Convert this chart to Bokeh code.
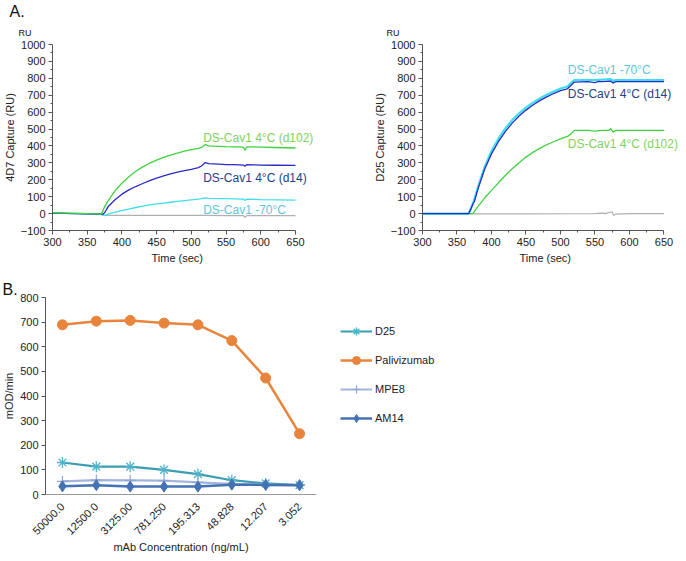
import math
from bokeh.plotting import figure
from bokeh.models import Label, Legend, LegendItem, FactorRange, FixedTicker, Range1d, Title
from bokeh.layouts import column, row
from bokeh.embed import file_html
from bokeh.resources import INLINE

FONT = "Liberation Sans"

# ---------------- Panel A data (SPR sensorgrams) ----------------
# 4D7 capture
t_4d7_d102 = [300, 320, 340, 360, 365, 370, 372, 375, 380, 390, 400, 410, 420, 430, 440, 450, 460, 470, 480,
              490, 500, 510, 515, 520, 525, 540, 550, 560, 570, 575, 577, 580, 590, 600, 620, 650]
ru_4d7_d102 = [5, 3, 1, -2, -3, -3, 10, 40, 75, 135, 180, 218, 250, 276, 298, 316, 332, 346, 358,
               369, 378, 386, 392, 408, 400, 398, 396, 395, 395, 392, 375, 394, 394, 393, 391, 388]
t_4d7_d14 = [300, 365, 370, 372, 375, 380, 390, 400, 410, 420, 430, 440, 450, 460, 470, 480, 490, 500, 510,
             515, 520, 525, 540, 550, 560, 570, 575, 577, 580, 590, 600, 620, 650]
ru_4d7_d14 = [3, -3, -3, -5, 5, 40, 82, 115, 140, 160, 178, 195, 210, 223, 235, 245, 254, 262, 272,
              283, 302, 295, 293, 290, 290, 288, 287, 280, 290, 288, 287, 286, 285]
t_4d7_m70 = [300, 365, 370, 375, 378, 380, 390, 400, 410, 420, 430, 440, 450, 460, 470, 480, 490, 500, 510,
             515, 520, 525, 550, 575, 577, 580, 600, 650]
ru_4d7_m70 = [3, -3, -5, -12, -8, -3, 8, 18, 27, 36, 44, 51, 57, 62, 67, 72, 77, 81, 85,
              88, 93, 90, 88, 86, 78, 85, 83, 80]
t_4d7_blank = [300, 360, 370, 375, 380, 450, 520, 550, 575, 577, 580, 650]
ru_4d7_blank = [2, 0, -2, -10, -10, -10, -10, -12, -12, -22, -12, -12]

# D25 capture
t_d25_blank = [300, 360, 380, 450, 520, 550, 560, 565, 572, 575, 577, 580, 600, 650]
ru_d25_blank = [0, 0, -2, -2, -1, 0, 3, 0, 8, 10, -12, -3, 0, 0]
t_d25_d102 = [300, 365, 373, 380, 390, 400, 410, 420, 430, 440, 450, 460, 470, 480, 490, 500, 510, 515, 520,
              540, 550, 560, 570, 573, 576, 580, 600, 650]
ru_d25_d102 = [0, 0, 0, 40, 92, 137, 182, 225, 265, 301, 334, 362, 386, 407, 425, 442, 456, 470, 492,
               492, 488, 492, 492, 503, 482, 492, 492, 492]
t_d25_d14 = [300, 367, 370, 373, 375, 380, 390, 400, 410, 420, 430, 440, 450, 460, 470, 480, 490, 500, 510,
             515, 520, 540, 550, 555, 560, 573, 576, 580, 650]
ru_d25_d14 = [0, 0, 25, 55, 70, 140, 262, 353, 425, 485, 535, 577, 612, 642, 668, 690, 710, 727, 738,
              758, 778, 780, 775, 782, 780, 783, 772, 780, 780]
t_d25_m70 = [300, 367, 370, 373, 375, 380, 390, 400, 410, 420, 430, 440, 450, 460, 470, 480, 490, 500, 510,
             515, 520, 550, 573, 576, 580, 650]
ru_d25_m70 = [0, 0, 30, 62, 80, 152, 275, 370, 443, 503, 553, 593, 627, 656, 681, 703, 722, 740, 752,
              772, 790, 790, 795, 785, 790, 790]

x_ticks_a = [300, 350, 400, 450, 500, 550, 600, 650]
y_ticks_a = [-100, 0, 100, 200, 300, 400, 500, 600, 700, 800, 900, 1000]

# ---------------- Panel B data ----------------
concentrations = ["50000.0", "12500.0", "3125.00", "781.250", "195.313", "48.828", "12.207", "3.052"]
d25 = [130, 113, 113, 100, 83, 58, 45, 38]
palivizumab = [689, 704, 707, 696, 689, 625, 473, 247]
mpe8 = [53, 58, 57, 56, 49, 43, 40, 38]
am14 = [33, 38, 32, 32, 32, 40, 39, 38]
y_ticks_b = [0, 100, 200, 300, 400, 500, 600, 700, 800]

GREEN_L, GREEN_T = "#3fd23f", "#7ed35e"
BLUE_L, BLUE_T = "#2a2ac8", "#24408a"
CYAN_L, CYAN_T = "#3de0ea", "#5ec6dc"
GRAY_L = "#b0b0b0"


def style_axes(p, ylabel, xlabel):
    p.outline_line_color = None
    p.xgrid.visible = False
    p.ygrid.visible = False
    p.background_fill_color = None
    p.border_fill_color = None
    for ax in (p.xaxis[0], p.yaxis[0]):
        ax.axis_line_color = "#555555"
        ax.major_tick_line_color = "#555555"
        ax.minor_tick_line_color = "#555555"
        ax.major_tick_in = 0
        ax.major_tick_out = 4
        ax.minor_tick_in = 0
        ax.minor_tick_out = 2
        ax.major_label_text_font = FONT
        ax.major_label_text_font_size = "11px"
        ax.major_label_text_color = "#222222"
        ax.axis_label_text_font = FONT
        ax.axis_label_text_font_size = "11px"
        ax.axis_label_text_font_style = "normal"
        ax.axis_label_text_color = "#222222"
        ax.major_label_standoff = 3
    if xlabel:
        p.xaxis.axis_label = xlabel
    p.yaxis.axis_label = ylabel
    p.yaxis.axis_label_standoff = 2
    p.xaxis.axis_label_standoff = 3


def make_title(p, s, size, offset, standoff, side="above", color="#111111"):
    p.add_layout(Title(text=s, align="left", offset=offset, standoff=standoff, text_font=FONT,
                       text_font_size=size, text_font_style="normal", text_color=color), side)


def spr_fig(bl, frame_w, x_end, ylabel, xlabel_offset):
    p = figure(frame_width=frame_w, frame_height=186, output_backend="svg", toolbar_location=None,
               x_range=Range1d(300, x_end), y_range=Range1d(-100, 1000),
               min_border_left=bl, min_border_right=0, min_border_top=38, min_border_bottom=44)
    style_axes(p, ylabel, None)
    p.xaxis.bounds = (300, 650)
    p.xaxis.ticker = FixedTicker(ticks=x_ticks_a, minor_ticks=[v + 25 for v in x_ticks_a[:-1]])
    p.yaxis.ticker = FixedTicker(ticks=y_ticks_a, minor_ticks=[v + 50 for v in y_ticks_a[:-1]])
    make_title(p, "Time (sec)", "11px", xlabel_offset, 2, side="below", color="#222222")
    return p


def txt(p, x, y, s, color, size="12px"):
    p.add_layout(Label(x=x, y=y, text=s, text_color=color, text_font=FONT, text_font_size=size,
                       text_align="left", text_baseline="middle"))


# ---- A left: 4D7 ----
p1 = spr_fig(43, 292, 720.6, "4D7 Capture (RU)", 99)
p1.line(t_4d7_blank, ru_4d7_blank, line_color=GRAY_L, line_width=1.2)
p1.line(t_4d7_m70, ru_4d7_m70, line_color=CYAN_L, line_width=1.3)
p1.line(t_4d7_d14, ru_4d7_d14, line_color=BLUE_L, line_width=1.3)
p1.line(t_4d7_d102, ru_4d7_d102, line_color=GREEN_L, line_width=1.3)
txt(p1, 517, 445, "DS-Cav1 4°C (d102)", GREEN_T)
txt(p1, 517, 210, "DS-Cav1 4°C (d14)", BLUE_T)
txt(p1, 517, 22, "DS-Cav1 -70°C", CYAN_T)
make_title(p1, "RU", "9px", -34, 13)
make_title(p1, "A.", "16px", -43, 0)

# ---- A right: D25 ----
p2 = spr_fig(78, 257, 672.5, "D25 Capture (RU)", 97)
p2.line(t_d25_blank, ru_d25_blank, line_color=GRAY_L, line_width=1.2)
p2.line(t_d25_d102, ru_d25_d102, line_color=GREEN_L, line_width=1.3)
p2.line(t_d25_m70, ru_d25_m70, line_color=CYAN_L, line_width=2.2)
p2.line(t_d25_d14, ru_d25_d14, line_color=BLUE_L, line_width=1.3)
txt(p2, 510.5, 848, "DS-Cav1 -70°C", CYAN_T)
txt(p2, 510.5, 705, "DS-Cav1 4°C (d14)", BLUE_T)
txt(p2, 510.5, 409, "DS-Cav1 4°C (d102)", GREEN_T)
make_title(p2, "RU", "9px", -36, 13)

# ---- B ----
p3 = figure(frame_width=271, frame_height=197, output_backend="svg", toolbar_location=None,
            x_range=FactorRange(factors=concentrations, range_padding=0), y_range=Range1d(0, 800),
            min_border_left=43, min_border_right=356, min_border_top=23, min_border_bottom=56)
style_axes(p3, "mOD/min", "mAb Concentration (ng/mL)")
p3.yaxis.ticker = FixedTicker(ticks=y_ticks_b)
p3.yaxis.minor_tick_line_color = None
p3.xaxis.major_tick_line_color = None
p3.xaxis.minor_tick_line_color = None
p3.xaxis.axis_line_color = "#9a9a9a"
p3.xaxis.major_label_orientation = math.pi / 4
p3.xaxis.major_label_standoff = 6
p3.xaxis.axis_label_standoff = 0

C_D25, C_PAL, C_MPE, C_AM = "#3b9db0", "#e8843c", "#a4b5dd", "#4472b4"
l1 = p3.line(concentrations, d25, line_color=C_D25, line_width=2.2)
m1 = p3.scatter(concentrations, d25, marker="asterisk", size=11, line_color="#4fb3cc", line_width=1.3)
l2 = p3.line(concentrations, palivizumab, line_color=C_PAL, line_width=2.5)
m2 = p3.scatter(concentrations, palivizumab, marker="circle", size=10, fill_color=C_PAL, line_color=C_PAL)
l3 = p3.line(concentrations, mpe8, line_color=C_MPE, line_width=2.2)
m3 = p3.scatter(concentrations, mpe8, marker="cross", size=11, line_color="#8fa5d6", line_width=1.2)
l4 = p3.line(concentrations, am14, line_color=C_AM, line_width=2.5)
m4 = p3.scatter(concentrations, am14, marker="diamond", size=11, fill_color=C_AM, line_color=C_AM)

legend = Legend(items=[LegendItem(label="D25", renderers=[l1, m1]),
                       LegendItem(label="Palivizumab", renderers=[l2, m2]),
                       LegendItem(label="MPE8", renderers=[l3, m3]),
                       LegendItem(label="AM14", renderers=[l4, m4])],
                location="top_left", orientation="vertical",
                glyph_width=32, glyph_height=20, label_height=20, spacing=9,
                label_standoff=3, padding=0, margin=24, border_line_color=None,
                background_fill_alpha=0, label_text_font=FONT, label_text_font_size="11px",
                label_text_color="#222222")
p3.add_layout(legend, "right")
make_title(p3, "B.", "16px", -43, 0)

layout = column(row(p1, p2), p3)
open("out.html", "w").write(file_html(layout, INLINE))
